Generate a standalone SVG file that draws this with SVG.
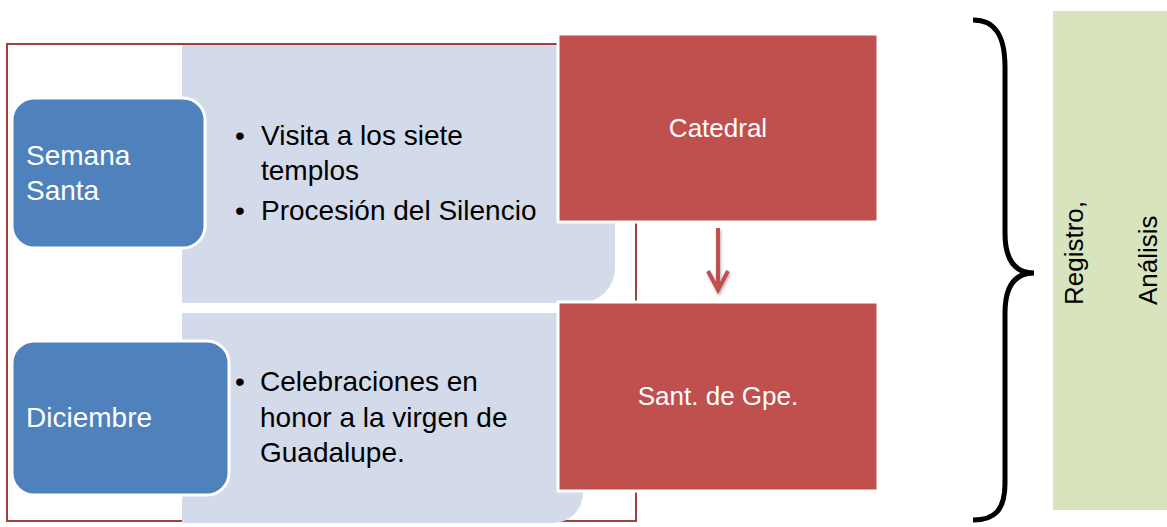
<svg xmlns="http://www.w3.org/2000/svg" width="1167" height="527" viewBox="0 0 1167 527">
<style>
.t{font-family:"Liberation Sans",Arial,sans-serif}
.w{fill:#FFFFFF}
.k{fill:#000000}
.panel{fill:#D3DBEA}
.blue{fill:#4F81BD;stroke:#FFFFFF;stroke-width:3}
.red{fill:#C0504D;stroke:#FFFFFF;stroke-width:3}
</style>
<defs>
<filter id="sh" x="-50%" y="-20%" width="200%" height="150%">
<feDropShadow dx="1" dy="2" stdDeviation="1.5" flood-color="#000" flood-opacity="0.3"/>
</filter>
</defs>
<rect width="1167" height="527" fill="#FFFFFF"/>
<g id="frame">
<rect x="7" y="44" width="629" height="477" fill="none" stroke="#A0403D" stroke-width="2"/>
</g>
<g id="panel-semana">
<path class="panel" d="M182 45 H615 V268 A35 35 0 0 1 580 303 H182 Z"/>
<text class="t k" font-size="28"><tspan x="235" y="145">•</tspan><tspan x="261" y="145">Visita a los siete</tspan></text>
<text class="t k" font-size="28" x="261" y="180">templos</text>
<text class="t k" font-size="28"><tspan x="235" y="220">•</tspan><tspan x="261" y="220">Procesión del Silencio</tspan></text>
</g>
<g id="panel-diciembre">
<path class="panel" d="M182 313 H583 V493 A30 30 0 0 1 553 523 H182 Z"/>
<text class="t k" font-size="28"><tspan x="235" y="391">•</tspan><tspan x="260" y="391">Celebraciones en</tspan></text>
<text class="t k" font-size="28" x="260" y="427">honor a la virgen de</text>
<text class="t k" font-size="28" x="260" y="462">Guadalupe.</text>
</g>
<g id="node-semana">
<rect class="blue" x="12" y="98" width="193" height="150" rx="22"/>
<text class="t w" font-size="28" x="26" y="165">Semana</text>
<text class="t w" font-size="28" x="26" y="200">Santa</text>
</g>
<g id="node-diciembre">
<rect class="blue" x="12" y="341" width="217" height="154" rx="22"/>
<text class="t w" font-size="28" x="26" y="427">Diciembre</text>
</g>
<g id="node-catedral">
<rect class="red" x="558" y="34" width="320" height="188"/>
<text class="t w" font-size="26" x="718" y="137" text-anchor="middle">Catedral</text>
</g>
<g id="node-sant">
<rect class="red" x="558" y="302" width="320" height="189"/>
<text class="t w" font-size="26" x="718" y="405" text-anchor="middle">Sant. de Gpe.</text>
</g>
<g id="connectors">
<g filter="url(#sh)" stroke="#C0504D" stroke-width="4" fill="none" stroke-linecap="butt">
<line x1="718" y1="228" x2="718" y2="289"/>
<polyline points="708,271 718,290 728,271" stroke-linejoin="miter"/>
</g>
</g>
<g id="brace">
<path d="M973 20 C995 20 1005 35 1005 67 L1005 233 C1005 260 1015 273 1034 273 C1015 273 1005 286 1005 313 L1005 483 C1005 510 995 520 973 520" fill="none" stroke="#000000" stroke-width="5"/>
</g>
<g id="node-registro">
<rect x="1053" y="11" width="114" height="499" fill="#D7E4BD"/>
<text class="t k" font-size="26" transform="translate(1083 305) rotate(-90)">Registro,</text>
<text class="t k" font-size="26" transform="translate(1157 305) rotate(-90)">Análisis</text>
</g>
</svg>
